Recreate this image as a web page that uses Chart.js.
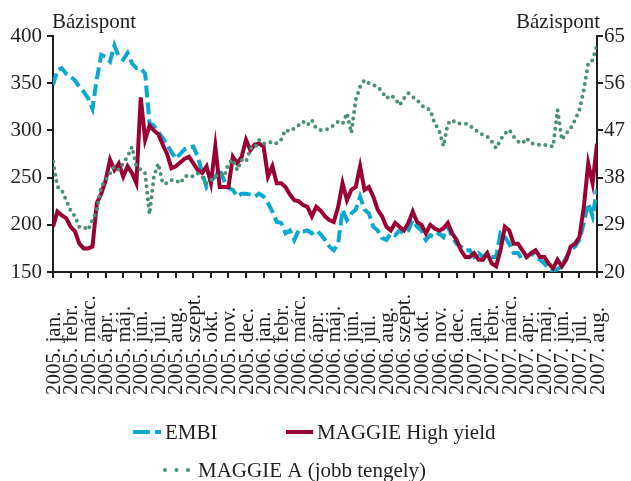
<!DOCTYPE html>
<html>
<head>
<meta charset="utf-8">
<script src="https://cdn.jsdelivr.net/npm/chart.js@4.4.0/dist/chart.umd.min.js"></script>
<style>
  body { margin: 0; background: #fff; }
</style>
</head>
<body>
<canvas id="grafikon" width="631" height="481"></canvas>
<script>
// havi címkék az x tengelyen (2005. jan. - 2007. aug.)
const honapok = [
    '2005. jan.', '2005. febr.', '2005. márc.', '2005. ápr.', '2005. máj.', '2005. jún.',
    '2005. júl.', '2005. aug.', '2005. szept.', '2005. okt.', '2005. nov.', '2005. dec.',
    '2006. jan.', '2006. febr.', '2006. márc.', '2006. ápr.', '2006. máj.', '2006. jún.',
    '2006. júl.', '2006. aug.', '2006. szept.', '2006. okt.', '2006. nov.', '2006. dec.',
    '2007. jan.', '2007. febr.', '2007. márc.', '2007. ápr.', '2007. máj.', '2007. jún.',
    '2007. júl.', '2007. aug.'
];

// mintavételi időpontok, hónapban (0 = 2005. jan.), negyedhavonta
const idopontok = [
    0, 0.25, 0.5, 0.75, 1, 1.25, 1.5, 1.75, 2, 2.25, 2.5, 2.75, 3, 3.25, 3.5, 3.75,
    4, 4.25, 4.5, 4.75, 5, 5.25, 5.5, 5.75, 6, 6.25, 6.5, 6.75, 7, 7.25, 7.5, 7.75,
    8, 8.25, 8.5, 8.75, 9, 9.25, 9.5, 9.75, 10, 10.25, 10.5, 10.75, 11, 11.25, 11.5, 11.75,
    12, 12.25, 12.5, 12.75, 13, 13.25, 13.5, 13.75, 14, 14.25, 14.5, 14.75, 15, 15.25, 15.5, 15.75,
    16, 16.25, 16.5, 16.75, 17, 17.25, 17.5, 17.75, 18, 18.25, 18.5, 18.75, 19, 19.25, 19.5, 19.75,
    20, 20.25, 20.5, 20.75, 21, 21.25, 21.5, 21.75, 22, 22.25, 22.5, 22.75, 23, 23.25, 23.5, 23.75,
    24, 24.25, 24.5, 24.75, 25, 25.25, 25.5, 25.75, 26, 26.25, 26.5, 26.75, 27, 27.25, 27.5, 27.75,
    28, 28.25, 28.5, 28.75, 29, 29.25, 29.5, 29.75, 30, 30.25, 30.5, 30.75, 31
];

// EMBI (bal tengely, bázispont)
const embi = [
    348, 364, 366, 360, 357, 353, 346, 341, 334, 323, 355, 380, 378, 373, 390, 378,
    375, 382, 371, 366, 366, 360, 308, 305, 298, 292, 285, 277, 270, 275, 280, 282,
    283, 272, 255, 240, 247, 251, 258, 247, 239, 237, 230, 233, 233, 232, 230, 233,
    230, 223, 214, 203, 202, 191, 194, 184, 194, 193, 194, 191, 194, 190, 184, 177,
    173, 180, 216, 205, 212, 216, 230, 216, 212, 198, 194, 186, 184, 191, 189, 194,
    191, 194, 205, 198, 194, 184, 189, 187, 191, 187, 198, 187, 180, 177, 173, 173,
    166, 170, 166, 170, 166, 166, 191, 187, 180, 170, 170, 163, 166, 170, 166, 163,
    159, 153, 151, 153, 156, 166, 173, 177, 184, 202, 223, 209, 238
];

// MAGGIE High yield (bal tengely)
const maggieHY = [
    198, 214, 210, 207, 198, 193, 180, 175, 175, 177, 223, 233, 247, 269, 258, 265,
    251, 262, 255, 244, 335, 290, 305, 300, 296, 285, 275, 260, 262, 266, 270, 272,
    265, 258, 255, 262, 244, 283, 240, 240, 240, 272, 265, 272, 290, 279, 285, 286,
    283, 251, 262, 244, 244, 240, 232, 226, 225, 221, 219, 209, 219, 215, 209, 205,
    203, 219, 244, 226, 237, 240, 262, 237, 240, 230, 216, 209, 198, 194, 202, 198,
    194, 202, 214, 203, 200, 191, 200, 196, 194, 196, 202, 191, 184, 173, 166, 166,
    170, 163, 163, 170, 159, 156, 173, 198, 194, 180, 180, 173, 166, 170, 173, 166,
    166, 159, 154, 163, 156, 163, 177, 180, 187, 219, 265, 244, 286
];

// MAGGIE A (jobb tengely)
const maggieA = [
    41.0, 36.3, 35.6, 33.7, 31.8, 30.6, 28.6, 28.6, 28.0, 29.9, 31.8, 36.3, 37.5, 38.8, 40.1, 39.5,
    40.7, 42.0, 43.9, 40.1, 39.5, 38.8, 31.0, 38.2, 40.7, 36.9, 36.9, 37.5, 37.5, 36.9, 38.2, 38.5,
    38.2, 38.8, 38.2, 36.9, 37.5, 38.2, 38.8, 38.2, 40.7, 41.4, 39.4, 41.4, 41.0, 43.6, 43.6, 45.2,
    44.5, 44.5, 44.9, 44.5, 45.2, 47.1, 46.8, 47.4, 48.0, 48.7, 48.0, 49.0, 47.4, 47.1, 47.1, 47.4,
    48.0, 48.7, 48.3, 50.3, 46.5, 52.8, 55.3, 56.6, 56.0, 55.7, 55.3, 54.4, 53.1, 53.7, 53.1, 51.8,
    53.1, 54.1, 53.4, 52.8, 51.8, 51.2, 50.9, 48.3, 47.1, 44.0, 48.3, 49.0, 48.3, 48.3, 48.3, 48.0,
    47.1, 46.8, 46.1, 45.8, 44.9, 43.6, 45.2, 46.4, 47.1, 45.8, 44.9, 44.5, 45.5, 44.5, 44.5, 44.2,
    44.2, 44.2, 43.9, 50.9, 45.2, 46.4, 47.4, 49.0, 50.9, 54.7, 59.8, 60.4, 63.3
];

const balTengely = [150, 200, 250, 300, 350, 400];
const jobbTengely = [20, 29, 38, 47, 56, 65];

const szovegSzin = '#231f20';
const betu = '21px "Liberation Serif"';

function pontok(ertekek) {
    return ertekek.map((v, i) => ({ x: idopontok[i], y: v }));
}

const tengelyStilus = {
    grid: { drawOnChartArea: false, drawTicks: true, tickLength: 6, color: szovegSzin, lineWidth: 2 },
    border: { color: szovegSzin, width: 2 }
};

// saját rajz: tengelycímek, elforgatott hónapcímkék, jelmagyarázat
const sajatRajz = {
    id: 'sajatRajz',
    afterDraw(chart) {
        const ctx = chart.ctx;
        const x = chart.scales.x;
        ctx.save();
        ctx.fillStyle = szovegSzin;
        ctx.font = betu;
        ctx.textBaseline = 'alphabetic';
        ctx.textAlign = 'left';
        ctx.fillText('Bázispont', 52, 28);
        ctx.textAlign = 'right';
        ctx.fillText('Bázispont', 600, 28);

        ctx.textAlign = 'left';
        ctx.textBaseline = 'middle';
        honapok.forEach((h, i) => {
            ctx.save();
            ctx.translate(x.getPixelForValue(i) + 1, 395);
            ctx.rotate(-Math.PI / 2);
            ctx.fillText(h, 0, 0);
            ctx.restore();
        });

        // jelmagyarázat
        const tetelek = [
            { ds: 2, x1: 133, x2: 161, tx: 165, y: 432, dash: [17, 5] },
            { ds: 1, x1: 286, x2: 313, tx: 317, y: 432, dash: [] },
            { ds: 0, x1: 165, x2: 189, tx: 198, y: 470, dash: [0, 11.5] }
        ];
        tetelek.forEach(t => {
            const d = chart.data.datasets[t.ds];
            ctx.save();
            ctx.strokeStyle = d.borderColor;
            ctx.lineWidth = d.borderWidth;
            ctx.lineCap = d.borderCapStyle || 'butt';
            ctx.setLineDash(t.dash);
            ctx.beginPath();
            ctx.moveTo(t.x1, t.y);
            ctx.lineTo(t.x2, t.y);
            ctx.stroke();
            ctx.restore();
            ctx.fillText(d.label, t.tx, t.y + 1);
        });
        ctx.restore();
    }
};

new Chart(document.getElementById('grafikon'), {
    type: 'line',
    data: {
        datasets: [
            {
                label: 'MAGGIE A (jobb tengely)',
                data: pontok(maggieA),
                yAxisID: 'y2',
                borderColor: '#4a9272',
                borderWidth: 4,
                borderDash: [0, 6.5],
                borderCapStyle: 'round',
                pointRadius: 0,
                tension: 0
            },
            {
                label: 'MAGGIE High yield',
                data: pontok(maggieHY),
                yAxisID: 'y',
                borderColor: '#990033',
                borderWidth: 4,
                pointRadius: 0,
                tension: 0
            },
            {
                label: 'EMBI',
                data: pontok(embi),
                yAxisID: 'y',
                borderColor: '#0aa9cf',
                borderWidth: 4,
                borderDash: [12, 5],
                pointRadius: 0,
                tension: 0
            }
        ]
    },
    options: {
        responsive: false,
        animation: false,
        devicePixelRatio: 1,
        layout: { padding: { top: 36 } },
        plugins: { legend: { display: false }, tooltip: { enabled: false } },
        scales: {
            x: {
                type: 'linear',
                min: 0,
                max: 31,
                ticks: { display: false },
                afterBuildTicks: s => { s.ticks = honapok.map((h, i) => ({ value: i })); },
                afterFit: s => { s.height = 209; },
                ...tengelyStilus
            },
            y: {
                position: 'left',
                min: 150,
                max: 400,
                ticks: { font: { family: 'Liberation Serif', size: 21 }, color: szovegSzin, padding: 5 },
                afterBuildTicks: s => { s.ticks = balTengely.map(v => ({ value: v })); },
                afterFit: s => { s.width = 53; },
                ...tengelyStilus
            },
            y2: {
                position: 'right',
                min: 20,
                max: 65,
                ticks: { font: { family: 'Liberation Serif', size: 21 }, color: szovegSzin, padding: 1 },
                afterBuildTicks: s => { s.ticks = jobbTengely.map(v => ({ value: v })); },
                afterFit: s => { s.width = 34; },
                ...tengelyStilus
            }
        }
    },
    plugins: [sajatRajz]
});
</script>
</body>
</html>
